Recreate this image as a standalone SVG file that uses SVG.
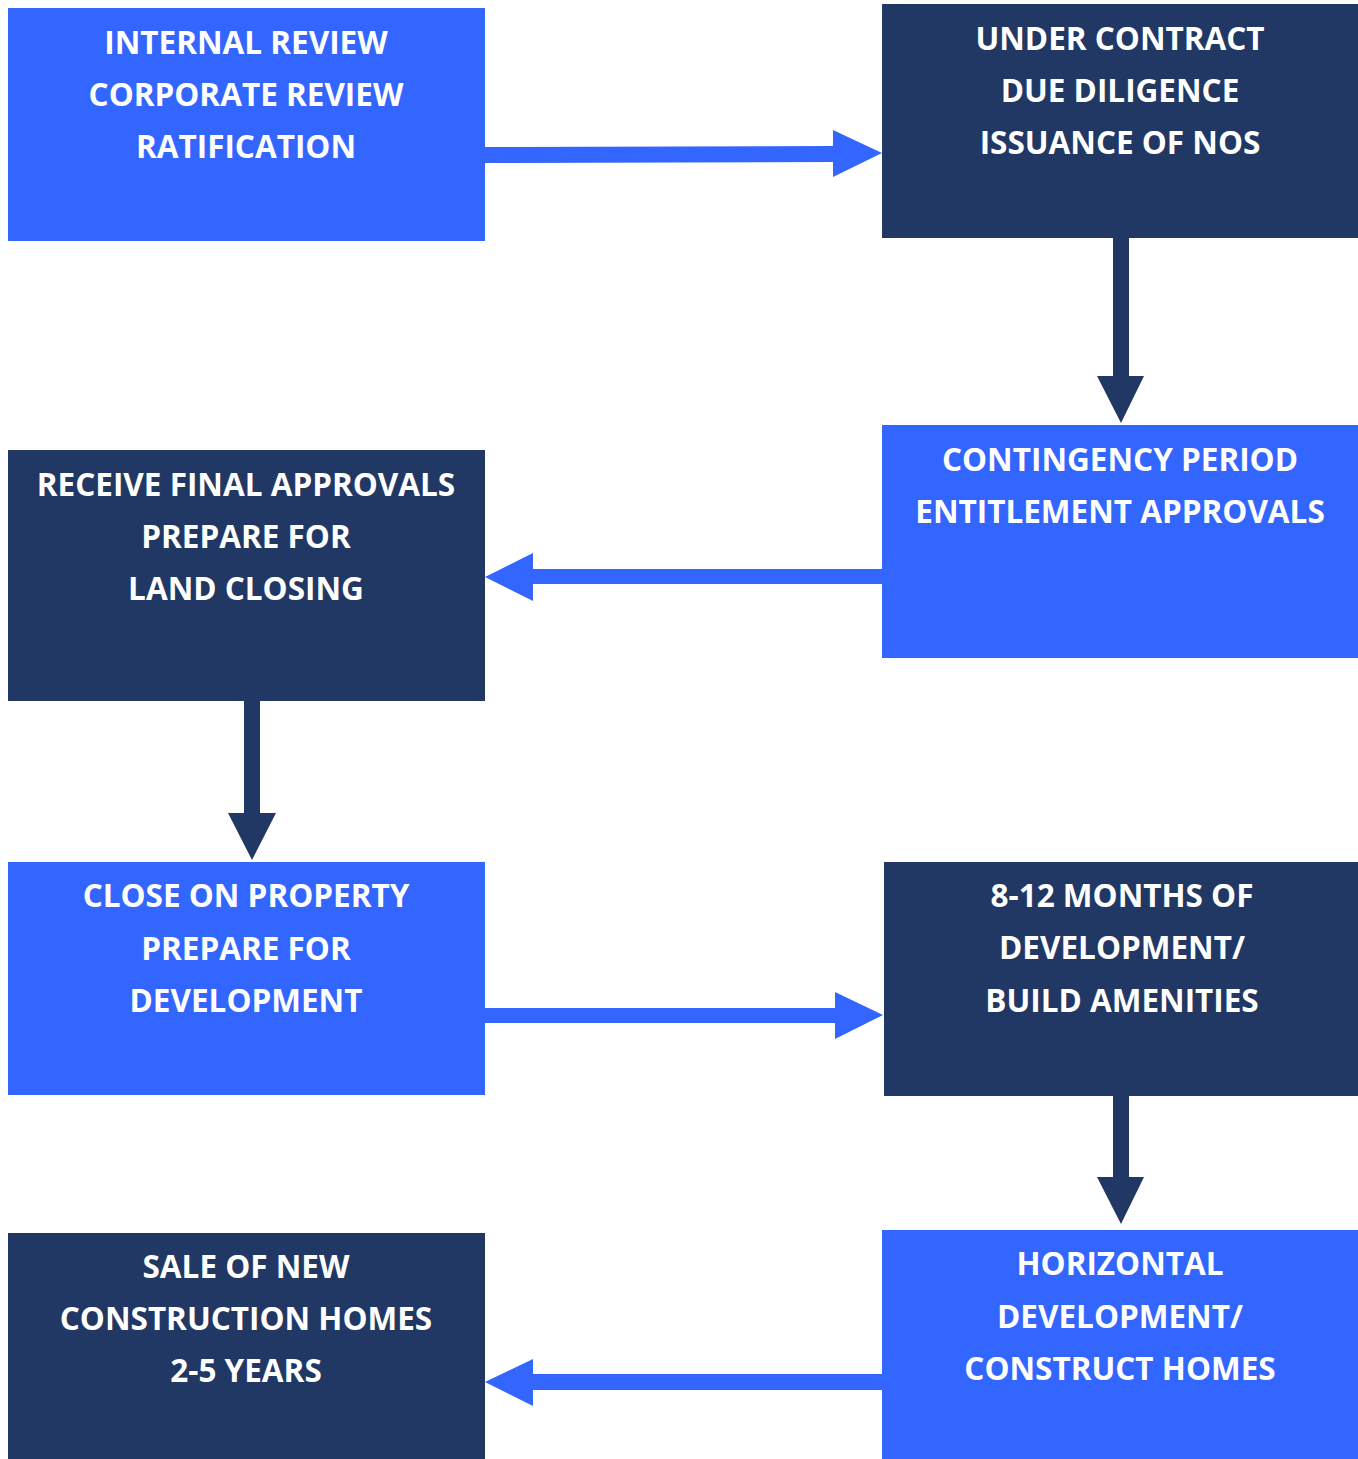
<svg xmlns="http://www.w3.org/2000/svg" width="1358" height="1459" viewBox="0 0 1358 1459">
<style>
.blue{fill:#3366FF}
.navy{fill:#213864}
.t{font-family:"Open Sans","Liberation Sans",sans-serif;font-weight:bold;font-size:31.5px;fill:#FFFFFF;text-anchor:middle}
</style>
<rect width="1358" height="1459" fill="#FFFFFF"/>
<g id="connectors">
<polygon class="blue" points="485,147 833,146 833,130 882,153 833,177 833,162 485,163"/>
<polygon class="navy" points="1113,238 1129,238 1129,376 1144,376 1121,423 1097,376 1113,376"/>
<polygon class="blue" points="882,569 533,569 533,553 485,577 533,601 533,584 882,584"/>
<polygon class="navy" points="244,701 260,701 260,813 276,813 252,860 228,813 244,813"/>
<polygon class="blue" points="485,1008 835,1008 835,992 883,1015 835,1039 835,1023 485,1023"/>
<polygon class="navy" points="1113,1096 1129,1096 1129,1177 1144,1177 1121,1224 1097,1177 1113,1177"/>
<polygon class="blue" points="882,1374 533,1374 533,1359 485,1382 533,1406 533,1390 882,1390"/>
</g>
<g id="node1">
<rect class="blue" x="8" y="8" width="477" height="233"/>
<text class="t" x="246" y="54">INTERNAL REVIEW</text>
<text class="t" x="246" y="106">CORPORATE REVIEW</text>
<text class="t" x="246" y="158">RATIFICATION</text>
</g>
<g id="node2">
<rect class="navy" x="882" y="4" width="476" height="234"/>
<text class="t" x="1120" y="50">UNDER CONTRACT</text>
<text class="t" x="1120" y="102">DUE DILIGENCE</text>
<text class="t" x="1120" y="154">ISSUANCE OF NOS</text>
</g>
<g id="node3">
<rect class="blue" x="882" y="425" width="476" height="233"/>
<text class="t" x="1120" y="471">CONTINGENCY PERIOD</text>
<text class="t" x="1120" y="523">ENTITLEMENT APPROVALS</text>
</g>
<g id="node4">
<rect class="navy" x="8" y="450" width="477" height="251"/>
<text class="t" x="246" y="496">RECEIVE FINAL APPROVALS</text>
<text class="t" x="246" y="548">PREPARE FOR</text>
<text class="t" x="246" y="600">LAND CLOSING</text>
</g>
<g id="node5">
<rect class="blue" x="8" y="862" width="477" height="233"/>
<text class="t" x="246" y="907">CLOSE ON PROPERTY</text>
<text class="t" x="246" y="960">PREPARE FOR</text>
<text class="t" x="246" y="1012">DEVELOPMENT</text>
</g>
<g id="node6">
<rect class="navy" x="884" y="862" width="474" height="234"/>
<text class="t" x="1122" y="907">8-12 MONTHS OF</text>
<text class="t" x="1122" y="959">DEVELOPMENT/</text>
<text class="t" x="1122" y="1012">BUILD AMENITIES</text>
</g>
<g id="node7">
<rect class="blue" x="882" y="1230" width="476" height="229"/>
<text class="t" x="1120" y="1275">HORIZONTAL</text>
<text class="t" x="1120" y="1328">DEVELOPMENT/</text>
<text class="t" x="1120" y="1380">CONSTRUCT HOMES</text>
</g>
<g id="node8">
<rect class="navy" x="8" y="1233" width="477" height="226"/>
<text class="t" x="246" y="1278">SALE OF NEW</text>
<text class="t" x="246" y="1330">CONSTRUCTION HOMES</text>
<text class="t" x="246" y="1382">2-5 YEARS</text>
</g>
</svg>
